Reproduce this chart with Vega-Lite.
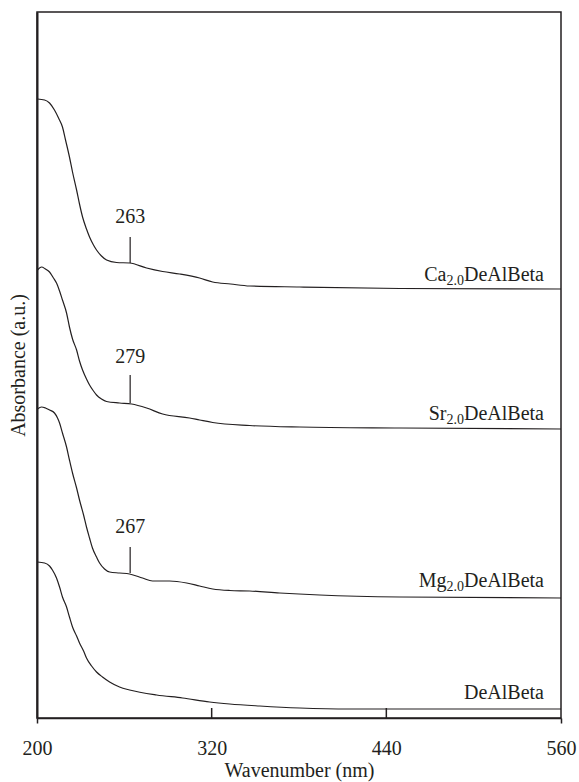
{
  "$schema": "https://vega.github.io/schema/vega-lite/v6.json",
  "width": 524,
  "height": 706,
  "autosize": {"type": "none"},
  "padding": {"left": 37, "top": 12, "right": 18, "bottom": 64},
  "background": "white",
  "config": {
    "view": {"stroke": "#231f20", "strokeWidth": 1.5},
    "font": "Liberation Serif",
    "axis": {"labelFont": "Liberation Serif", "titleFont": "Liberation Serif", "labelColor": "#231f20", "titleColor": "#231f20", "titleFontWeight": "normal", "grid": false, "domainColor": "#231f20"}
  },
  "datasets": {
    "spectra": [
      {"s": "Ca", "wl": 200.3, "a": 6.19}, {"s": "Ca", "wl": 205.2, "a": 6.18}, {"s": "Ca", "wl": 208.6, "a": 6.15}, {"s": "Ca", "wl": 212.0, "a": 6.08}, {"s": "Ca", "wl": 214.8, "a": 6.00}, {"s": "Ca", "wl": 217.5, "a": 5.91}, {"s": "Ca", "wl": 219.6, "a": 5.78}, {"s": "Ca", "wl": 222.3, "a": 5.61}, {"s": "Ca", "wl": 224.4, "a": 5.46}, {"s": "Ca", "wl": 227.2, "a": 5.28}, {"s": "Ca", "wl": 229.2, "a": 5.14}, {"s": "Ca", "wl": 231.3, "a": 5.01}, {"s": "Ca", "wl": 234.0, "a": 4.89}, {"s": "Ca", "wl": 236.1, "a": 4.81}, {"s": "Ca", "wl": 238.8, "a": 4.73}, {"s": "Ca", "wl": 240.9, "a": 4.68}, {"s": "Ca", "wl": 244.3, "a": 4.62}, {"s": "Ca", "wl": 247.8, "a": 4.58}, {"s": "Ca", "wl": 254.7, "a": 4.555}, {"s": "Ca", "wl": 263.6, "a": 4.55}, {"s": "Ca", "wl": 275.3, "a": 4.50}, {"s": "Ca", "wl": 286.3, "a": 4.465}, {"s": "Ca", "wl": 298.0, "a": 4.44}, {"s": "Ca", "wl": 311.7, "a": 4.40}, {"s": "Ca", "wl": 320.7, "a": 4.36}, {"s": "Ca", "wl": 333.0, "a": 4.34}, {"s": "Ca", "wl": 346.1, "a": 4.32}, {"s": "Ca", "wl": 380.5, "a": 4.31}, {"s": "Ca", "wl": 449.3, "a": 4.295}, {"s": "Ca", "wl": 560.0, "a": 4.29},
      {"s": "Sr", "wl": 200.3, "a": 4.48}, {"s": "Sr", "wl": 203.1, "a": 4.51}, {"s": "Sr", "wl": 205.8, "a": 4.49}, {"s": "Sr", "wl": 208.6, "a": 4.46}, {"s": "Sr", "wl": 211.3, "a": 4.40}, {"s": "Sr", "wl": 213.4, "a": 4.35}, {"s": "Sr", "wl": 215.5, "a": 4.27}, {"s": "Sr", "wl": 217.5, "a": 4.18}, {"s": "Sr", "wl": 220.3, "a": 4.05}, {"s": "Sr", "wl": 222.3, "a": 3.91}, {"s": "Sr", "wl": 224.4, "a": 3.79}, {"s": "Sr", "wl": 227.2, "a": 3.68}, {"s": "Sr", "wl": 229.2, "a": 3.57}, {"s": "Sr", "wl": 231.3, "a": 3.48}, {"s": "Sr", "wl": 234.0, "a": 3.39}, {"s": "Sr", "wl": 236.1, "a": 3.33}, {"s": "Sr", "wl": 238.8, "a": 3.27}, {"s": "Sr", "wl": 240.9, "a": 3.23}, {"s": "Sr", "wl": 244.3, "a": 3.19}, {"s": "Sr", "wl": 247.8, "a": 3.165}, {"s": "Sr", "wl": 256.7, "a": 3.15}, {"s": "Sr", "wl": 265.0, "a": 3.14}, {"s": "Sr", "wl": 275.3, "a": 3.10}, {"s": "Sr", "wl": 286.3, "a": 3.04}, {"s": "Sr", "wl": 304.8, "a": 3.00}, {"s": "Sr", "wl": 311.7, "a": 2.98}, {"s": "Sr", "wl": 320.7, "a": 2.955}, {"s": "Sr", "wl": 346.1, "a": 2.925}, {"s": "Sr", "wl": 380.5, "a": 2.91}, {"s": "Sr", "wl": 449.3, "a": 2.90}, {"s": "Sr", "wl": 560.0, "a": 2.89},
      {"s": "Mg", "wl": 200.3, "a": 3.09}, {"s": "Mg", "wl": 203.1, "a": 3.11}, {"s": "Mg", "wl": 205.8, "a": 3.10}, {"s": "Mg", "wl": 208.6, "a": 3.08}, {"s": "Mg", "wl": 212.0, "a": 3.05}, {"s": "Mg", "wl": 214.1, "a": 3.00}, {"s": "Mg", "wl": 215.5, "a": 2.95}, {"s": "Mg", "wl": 217.5, "a": 2.85}, {"s": "Mg", "wl": 220.3, "a": 2.71}, {"s": "Mg", "wl": 222.3, "a": 2.58}, {"s": "Mg", "wl": 224.4, "a": 2.45}, {"s": "Mg", "wl": 227.2, "a": 2.30}, {"s": "Mg", "wl": 229.2, "a": 2.18}, {"s": "Mg", "wl": 232.0, "a": 2.03}, {"s": "Mg", "wl": 234.0, "a": 1.91}, {"s": "Mg", "wl": 236.1, "a": 1.80}, {"s": "Mg", "wl": 238.1, "a": 1.70}, {"s": "Mg", "wl": 240.9, "a": 1.61}, {"s": "Mg", "wl": 243.0, "a": 1.55}, {"s": "Mg", "wl": 246.4, "a": 1.49}, {"s": "Mg", "wl": 249.9, "a": 1.46}, {"s": "Mg", "wl": 256.7, "a": 1.45}, {"s": "Mg", "wl": 263.6, "a": 1.44}, {"s": "Mg", "wl": 272.5, "a": 1.40}, {"s": "Mg", "wl": 279.4, "a": 1.37}, {"s": "Mg", "wl": 291.1, "a": 1.37}, {"s": "Mg", "wl": 302.8, "a": 1.35}, {"s": "Mg", "wl": 311.7, "a": 1.32}, {"s": "Mg", "wl": 320.7, "a": 1.29}, {"s": "Mg", "wl": 332.4, "a": 1.275}, {"s": "Mg", "wl": 346.1, "a": 1.27}, {"s": "Mg", "wl": 366.7, "a": 1.25}, {"s": "Mg", "wl": 394.2, "a": 1.23}, {"s": "Mg", "wl": 449.3, "a": 1.21}, {"s": "Mg", "wl": 560.0, "a": 1.20},
      {"s": "De", "wl": 200.3, "a": 1.56}, {"s": "De", "wl": 205.2, "a": 1.55}, {"s": "De", "wl": 208.6, "a": 1.52}, {"s": "De", "wl": 210.6, "a": 1.48}, {"s": "De", "wl": 213.4, "a": 1.40}, {"s": "De", "wl": 215.5, "a": 1.31}, {"s": "De", "wl": 217.5, "a": 1.21}, {"s": "De", "wl": 220.3, "a": 1.11}, {"s": "De", "wl": 222.3, "a": 1.01}, {"s": "De", "wl": 224.4, "a": 0.91}, {"s": "De", "wl": 227.2, "a": 0.82}, {"s": "De", "wl": 229.2, "a": 0.75}, {"s": "De", "wl": 232.0, "a": 0.67}, {"s": "De", "wl": 234.0, "a": 0.60}, {"s": "De", "wl": 237.5, "a": 0.52}, {"s": "De", "wl": 240.9, "a": 0.46}, {"s": "De", "wl": 245.0, "a": 0.41}, {"s": "De", "wl": 249.9, "a": 0.36}, {"s": "De", "wl": 256.7, "a": 0.31}, {"s": "De", "wl": 263.6, "a": 0.28}, {"s": "De", "wl": 282.2, "a": 0.23}, {"s": "De", "wl": 300.0, "a": 0.20}, {"s": "De", "wl": 318.6, "a": 0.16}, {"s": "De", "wl": 332.4, "a": 0.14}, {"s": "De", "wl": 353.0, "a": 0.12}, {"s": "De", "wl": 380.5, "a": 0.10}, {"s": "De", "wl": 414.9, "a": 0.09}, {"s": "De", "wl": 449.3, "a": 0.09}, {"s": "De", "wl": 560.0, "a": 0.09}
    ],
    "peaks": [
      {"wl": 264, "a": 4.95, "a1": 4.81, "a2": 4.55, "t": "263"},
      {"wl": 264, "a": 3.55, "a1": 3.43, "a2": 3.15, "t": "279"},
      {"wl": 264, "a": 1.85, "a1": 1.71, "a2": 1.45, "t": "267"}
    ],
    "names": [
      {"wl": 548.3, "a": 4.37, "p": "Ca", "sub": "2.0", "base": "DeAlBeta"},
      {"wl": 548.3, "a": 2.98, "p": "Sr", "sub": "2.0", "base": "DeAlBeta"},
      {"wl": 548.3, "a": 1.31, "p": "Mg", "sub": "2.0", "base": "DeAlBeta"},
      {"wl": 548.3, "a": 0.19, "p": "", "sub": "", "base": "DeAlBeta"}
    ],
    "innerTicks": [
      {"wl": 320, "a1": 0, "a2": 0.10},
      {"wl": 440, "a1": 0, "a2": 0.10}
    ]
  },
  "encoding": {
    "x": {"field": "wl", "type": "quantitative", "scale": {"domain": [200, 560], "nice": false, "zero": false},
      "axis": {"title": "Wavenumber (nm)", "values": [200, 320, 440, 560], "labelFontSize": 20, "titleFontSize": 20, "tickSize": 5, "tickWidth": 1.5, "domainWidth": 1.5,
        "tickColor": {"condition": {"test": "datum.value == 200 || datum.value == 560", "value": "#231f20"}, "value": "transparent"},
        "labelPadding": 15, "titlePadding": 2, "labelFlush": false}},
    "y": {"field": "a", "type": "quantitative", "scale": {"domain": [0, 7.06], "nice": false, "zero": false},
      "axis": {"title": "Absorbance (a.u.)", "ticks": false, "labels": false, "titleFontSize": 20, "titlePadding": 9, "domainWidth": 2}}
  },
  "layer": [
    {"data": {"name": "spectra"}, "mark": {"type": "line", "color": "#231f20", "strokeWidth": 1.2, "interpolate": "monotone"}, "encoding": {"detail": {"field": "s"}}},
    {"data": {"name": "innerTicks"}, "mark": {"type": "rule", "color": "#231f20", "strokeWidth": 1.5}, "encoding": {"y": {"field": "a1", "type": "quantitative"}, "y2": {"field": "a2"}}},
    {"data": {"name": "peaks"}, "mark": {"type": "rule", "color": "#231f20", "strokeWidth": 1.2}, "encoding": {"y": {"field": "a1", "type": "quantitative"}, "y2": {"field": "a2"}}},
    {"data": {"name": "peaks"}, "mark": {"type": "text", "fontSize": 20, "align": "center", "baseline": "alphabetic", "color": "#231f20"}, "encoding": {"text": {"field": "t"}}},
    {"data": {"name": "names"}, "mark": {"type": "text", "fontSize": 20, "align": "right", "baseline": "alphabetic", "color": "#231f20"}, "encoding": {"text": {"field": "base"}}},
    {"data": {"name": "names"}, "mark": {"type": "text", "fontSize": 14, "align": "right", "baseline": "alphabetic", "dx": -80, "dy": 4, "color": "#231f20"}, "encoding": {"text": {"field": "sub"}}},
    {"data": {"name": "names"}, "mark": {"type": "text", "fontSize": 20, "align": "right", "baseline": "alphabetic", "dx": -97.5, "color": "#231f20"}, "encoding": {"text": {"field": "p"}}}
  ]
}
